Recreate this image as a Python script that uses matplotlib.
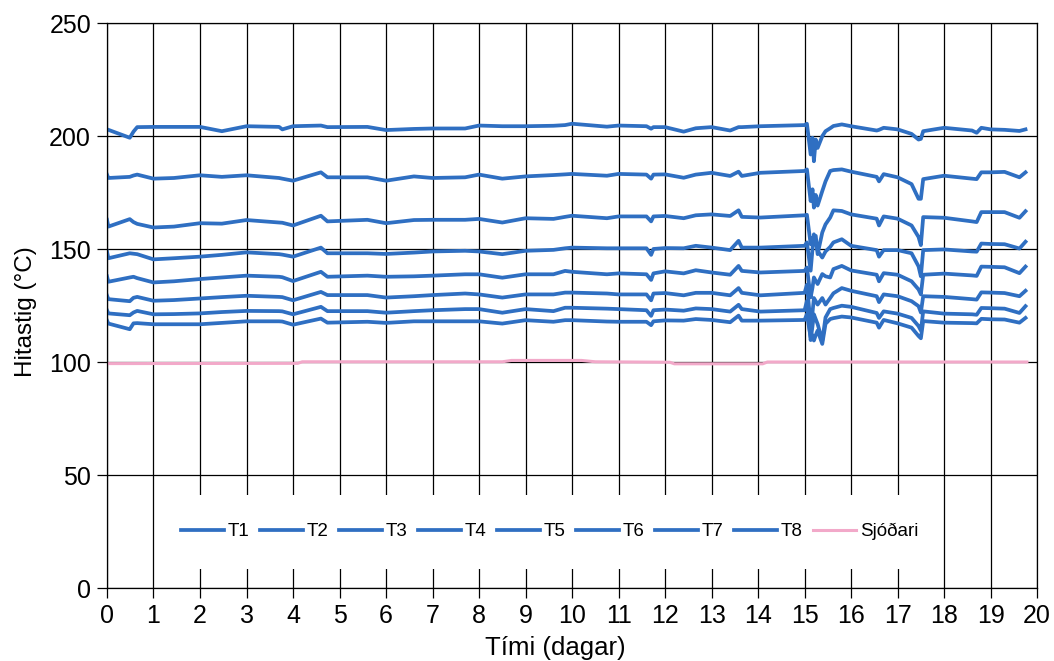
import matplotlib
matplotlib.use("Agg")
import matplotlib.pyplot as plt
from matplotlib.patches import Rectangle

plt.rcParams['font.family'] = ['Liberation Sans', 'DejaVu Sans']

# time axis (days) shared by the eight temperature sensors
days = [0.0, 0.03, 0.49, 0.57, 0.65, 1.0, 1.44, 2.0, 2.47, 3.0,
        3.7, 3.77, 4.0, 4.6, 4.74, 5.6, 6.0, 6.6, 7.0, 7.7,
        8.0, 8.5, 9.0, 9.6, 9.85, 10.0, 10.75, 11.0, 11.6, 11.7,
        11.75, 12.0, 12.4, 12.66, 13.0, 13.4, 13.58, 13.65, 14.05, 15.0,
        15.05, 15.13, 15.17, 15.2, 15.24, 15.28, 15.38, 15.45, 15.55, 15.62,
        15.8, 16.0, 16.55, 16.6, 16.7, 17.0, 17.3, 17.45, 17.5, 17.55,
        18.0, 18.6, 18.7, 18.8, 19.0, 19.3, 19.62, 19.75]

T1 = [203, 202.8, 199.3, 202, 204, 204.1, 204.1, 204.1, 202.2, 204.4,
      204.1, 203, 204.4, 204.7, 204, 204.1, 202.7, 203.2, 203.4, 203.4,
      204.7, 204.4, 204.4, 204.6, 204.9, 205.5, 204.2, 204.7, 204.4, 203.3,
      204, 204, 202, 203.5, 204, 202.5, 204, 204, 204.4, 204.9,
      205.5, 191.9, 199.3, 188.9, 198.5, 194.8, 200, 202.2, 203.5, 204.5,
      205.2, 204.4, 202.5, 202.8, 203.7, 203, 201, 198.5, 198.8, 202.2,
      203.7, 202.5, 201.5, 203.7, 203, 202.8, 202.3, 203]
T2 = [183, 181.5, 182, 182.6, 183, 181.2, 181.5, 182.7, 182, 182.7,
      181.5, 181.2, 180.3, 184, 181.8, 181.8, 180.3, 182.2, 181.5, 181.8,
      183, 181.2, 182.2, 182.8, 183.1, 183.3, 182.5, 183.3, 183, 181.2,
      183, 183.1, 181.6, 183, 183.8, 182.4, 184.3, 182.4, 183.8, 184.6,
      185.3, 171.3, 176.5, 168.4, 174, 169.3, 175.7, 180, 184.6, 185,
      185.3, 184.3, 182, 180, 183.2, 181.8, 178.8, 172.3, 172.3, 181,
      182.5, 181.2, 181, 184, 184, 184.2, 181.8, 184]
T3 = [163, 160, 163.3, 162, 161.2, 159.6, 160, 161.5, 161.3, 162.9,
      161.8, 161.7, 160.5, 164.8, 162.3, 163, 161.5, 162.9, 163, 163,
      163.4, 161.8, 163.7, 163.4, 164.3, 164.8, 163.7, 164.5, 164.5, 162.3,
      164.5, 164.7, 163.7, 165, 165.4, 164.7, 167.2, 164.3, 164, 165,
      165.2, 152.2, 155, 155.2, 155.9, 147.8, 157.4, 161, 164, 167.2,
      166.9, 165.4, 163.5, 160.5, 164.5, 163.5, 160.5, 155.4, 151.8, 164.2,
      163.9, 162.3, 162, 166.4, 166.4, 166.4, 163.9, 166.8]
T4 = [149, 146, 148.2, 148, 147.8, 145.5, 146, 146.7, 147.5, 148.6,
      147.8, 147.6, 146.7, 150.7, 148.2, 148.2, 147.9, 148.5, 149, 149.3,
      149, 147.8, 149.3, 149.7, 150.4, 150.7, 150.4, 150.4, 150.4, 147.5,
      150.1, 150.5, 150.4, 151.5, 150.7, 149.6, 153.7, 150.7, 150.7, 151.5,
      153, 140.5, 150, 156.6, 153, 149.3, 146.3, 149, 151, 153,
      154.4, 151.5, 149.6, 146.7, 149.6, 149.6, 148.2, 142.4, 138, 149.6,
      149.9, 149, 148.9, 152.5, 152.3, 152.2, 150.3, 153.3]
T5 = [138, 135.6, 137.5, 137.8, 137.2, 135.3, 135.8, 136.8, 137.5, 138.3,
      137.8, 137.6, 135.9, 140, 137.8, 138.3, 137.8, 138, 138.3, 138.9,
      138.9, 137.4, 138.9, 138.9, 140.4, 140, 138.9, 139.3, 138.9, 136.4,
      139.3, 140.2, 139.3, 140.7, 139.7, 138.7, 142.6, 140.4, 139.7, 140.4,
      141.9, 128.7, 133, 137.5, 136, 134.6, 139, 138, 137.5, 141.2,
      142.6, 140.6, 138.7, 135.8, 139.4, 138.7, 135.8, 132.2, 130, 138.7,
      139.2, 138.4, 138.2, 142.3, 142.2, 142, 139.4, 142.3]
T6 = [129.5, 127.9, 127, 128.5, 128.9, 127.2, 127.5, 128.2, 128.8, 129.4,
      128.9, 128.8, 127.4, 131.1, 129.7, 129.7, 128.6, 129.2, 129.7, 130.4,
      130, 128.6, 130, 130, 130.8, 130.8, 130.4, 130, 130, 127.4,
      130.4, 130.6, 129.6, 130.7, 130.7, 129.6, 132.8, 130.7, 129.6, 130.7,
      134.3, 116.6, 122, 128.4, 127, 125.5, 128.4, 125.5, 128.4, 130.5,
      132.8, 131.6, 129.2, 126.6, 130, 129.2, 127, 124.8, 122, 129.2,
      128.9, 127.9, 127.7, 130.9, 130.8, 130.6, 129.2, 131.6]
T7 = [123, 121.6, 120.8, 122, 122.7, 121.2, 121.3, 121.6, 122.2, 122.7,
      122.6, 122.5, 121.2, 124.5, 122.6, 122.6, 121.9, 122.6, 123, 123.5,
      123.5, 121.9, 123.5, 122.6, 124.1, 124.1, 123.7, 123.5, 123, 120.5,
      123, 123.3, 122.8, 123.8, 123.5, 122.4, 125.4, 123.5, 122.4, 123,
      127.1, 109.8, 116, 121.2, 119, 116.9, 109.5, 119.8, 123.5, 124,
      125, 124.5, 121.8, 119.6, 122.5, 121.5, 119.6, 116, 114, 122.5,
      121.5, 121.2, 121, 124, 123.9, 123.7, 121.8, 124.8]
T8 = [118.5, 117.1, 114.6, 117.2, 117.3, 116.8, 116.8, 116.8, 117.4, 118.1,
      118.1, 118, 116.6, 119.3, 117.5, 117.9, 117.4, 118.1, 118.1, 118.1,
      118.1, 117.1, 118.6, 117.9, 118.6, 118.6, 118, 117.9, 117.9, 116.4,
      118.1, 118.5, 118.4, 119.1, 118.7, 117.7, 120.6, 118.4, 118.4, 118.7,
      121.3, 111, 112, 109.6, 112, 114, 108.1, 117, 119.1, 119.5,
      120.2, 119.8, 117.5, 115.3, 118.7, 117.2, 115.3, 111.6, 110.6, 118.2,
      117.5, 117.3, 117.2, 119.2, 119, 118.9, 117.5, 119.6]

# boiler (Sjóðari) reference temperature
sjodari_days = [0, 4.1, 4.2, 8.5, 8.7, 10.2, 10.5, 12.1, 12.2, 14.1, 14.2, 19.78]
sjodari = [99.4, 99.5, 100.2, 100.2, 100.8, 100.8, 100.2, 100.0, 99.3, 99.3, 100.1, 100.1]

series = [T1, T2, T3, T4, T5, T6, T7, T8]
names = ['T1', 'T2', 'T3', 'T4', 'T5', 'T6', 'T7', 'T8']

BLUE = '#2f6fc2'
PINK = '#f2a9c9'

fig = plt.figure(figsize=(10.54, 6.61), dpi=100)
ax = fig.add_axes([0.1015, 0.110, 0.8825, 0.855])

for vals, name in zip(series, names):
    ax.plot(days, vals, color=BLUE, lw=2.7, label=name, solid_joinstyle='round')
ax.plot(sjodari_days, sjodari, color=PINK, lw=2.2, label='Sjóðari')

ax.set_xlim(0, 20)
ax.set_ylim(0, 250)
ax.set_xticks(range(0, 21))
ax.set_yticks(range(0, 251, 50))
ax.grid(True, color='black', lw=0.9)
ax.set_axisbelow(True)
for sp in ax.spines.values():
    sp.set_color('black')
    sp.set_linewidth(0.9)

ax.tick_params(axis='both', direction='out', length=7.5, width=0.9, labelsize=18, pad=4)
ax.set_ylabel('Hitastig (°C)', fontsize=17.5)
ax.yaxis.set_label_coords(-0.075, 0.49)
ax.set_xlabel('Tími (dagar)', fontsize=18.5)
ax.xaxis.set_label_coords(0.482, -0.085)

# white legend area hiding the grid (wider vertically than horizontally)
ax.add_patch(Rectangle((0.062, 0.035), 0.828, 0.13, transform=ax.transAxes,
                       facecolor='white', edgecolor='none', zorder=1))
leg = ax.legend(loc='center', bbox_to_anchor=(0.476, 0.1), ncol=9, fontsize=13.5,
                frameon=False, handlelength=2.3, handletextpad=0.2,
                columnspacing=0.55, borderpad=0.4)

fig.savefig('out.png', dpi=100)
